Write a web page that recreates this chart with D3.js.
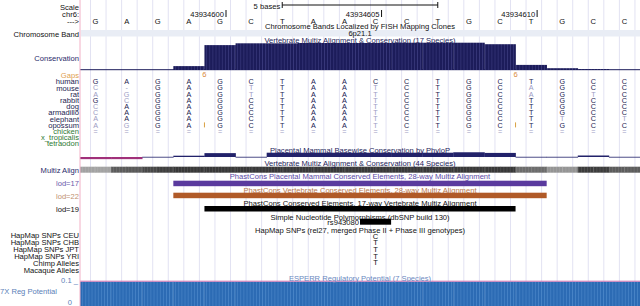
<!DOCTYPE html>
<html>
<head>
<meta charset="utf-8">
<script src="https://cdn.jsdelivr.net/npm/d3@7"></script>
<style>
body { margin: 0; background: #fff; }
svg { display: block; font-family: 'Liberation Sans', Arial, Helvetica, sans-serif; }
</style>
</head>
<body>
<div id="chart"></div>
<script>
//////// data ////////
var bases = ["G","A","G","A","G","C","T","A","A","C","C","T","G","C","T","G","C","C"];
var firstPos = 43934596;
var posLabels = [43934600, 43934605, 43934610];

// 17-way conservation per base (0..1)
var cons17 = [0, 0, 0, 0.13, 0.83, 0.89, 0.89, 0.9, 0.9, 0.9, 0.91, 0.91, 0.91, 0.86, 0.17, 0.06, 0.03, 0];

var species = ["human","mouse","rat","rabbit","dog","armadillo","elephant","opossum","chicken","x_tropicalis","tetraodon"];
var alignRows = [
  "GAGAGCTAACCTGCTGCC",
  "C-GAGTTAATCTGCAGCC",
  "AGGAGTTAATCTGCAGTC",
  "GCGAGCTAATCTGCTGCC",
  "CAGAGCTAATCTGCTGCC",
  "CAGAGCTAATCTGCTGCC",
  "AAGAGCTAATCTGCTTCT",
  "AGGAGCTAATCTGCTGCC",
  "==================",
  "",
  ""
];
var gaps = [{at: 4, n: 6, row: 7}, {at: 14, n: 6, row: 7}];

// phyloP per base
var phyloP = [-0.5, -0.5, 0.05, 0.3, 0.9, 0.05, 1.0, 1.0, 1.0, 1.0, 1.0, 1.0, 1.1, 0.95, 0.05, 0.05, 0.35, 0.05];

// 44-way multiz shading per half base (0..1)
var multiz44 = [0.35, 0.35, 0.7, 0.72, 0.8, 0.85, 0.88, 0.88, 0.88, 0.88, 0.88, 0.88,
                0.88, 0.88, 0.88, 0.88, 0.88, 0.88, 0.88, 0.88, 0.88, 0.88, 0.88, 0.88,
                0.88, 0.88, 0.88, 0.88, 0.62, 0.62, 0.42, 0.42, 0.86, 0.86, 0.7, 0.7];

var lod17 = [3, 15];
var lod22 = [3, 15];
var lod19 = [4, 14];

var snps = [{name: "rs943080", at: 9}];
var hapmapPops = ["HapMap SNPs CEU","HapMap SNPs CHB","HapMap SNPs JPT","HapMap SNPs YRI","Chimp Alleles","Macaque Alleles"];
var hapmapAlleles = ["C","T","T","T","T",""];
var hapmapAt = 9;

var regPotential = [0.1, 0.1, 0.1, 0.1, 0.1, 0.1, 0.1, 0.1, 0.1, 0.1, 0.1, 0.1, 0.1, 0.1, 0.1, 0.1, 0.1, 0.1];

//////// layout ////////
var width = 640, height = 306, left = 80;
var fs = 7.6;
var navy = "#1c1c5a";

var svg = d3.select("#chart").append("svg").attr("width", width).attr("height", height);

var x = d3.scaleLinear().domain([0, bases.length]).range([left, width]);
var bw = x(1) - x(0);

// striped fills: the bar tracks have a fine vertical texture
var defs = svg.append("defs");
function stripePattern(id, base, line) {
  var p = defs.append("pattern").attr("id", id).attr("patternUnits", "userSpaceOnUse")
    .attr("x", left).attr("width", 3.1).attr("height", 10);
  p.append("rect").attr("width", 3.1).attr("height", 10).attr("fill", base);
  p.append("rect").attr("x", 2.4).attr("width", 0.7).attr("height", 10).attr("fill", line);
}
stripePattern("consFill", navy, "#3a3a7c");
stripePattern("regFill", "#2c6bb4", "#4a86c8");

// guidelines
var guides = d3.range(left + 10.5, width, bw / 2);
svg.selectAll(".guide").data(guides).enter().append("line")
  .attr("x1", d => d).attr("x2", d => d)
  .attr("y1", 0).attr("y2", height)
  .attr("stroke", "#e2e2f2").attr("stroke-width", 1);

function label(txt, y, color, anchorX) {
  return svg.append("text").attr("x", anchorX === undefined ? left - 1 : anchorX).attr("y", y + 2.8)
    .attr("text-anchor", "end").attr("font-size", fs).attr("fill", color || "#111").text(txt);
}
function title(txt, y, color) {
  return svg.append("text").attr("x", 360).attr("y", y + 2.8)
    .attr("text-anchor", "middle").attr("font-size", fs).attr("fill", color || "#111").text(txt);
}

//// base position
label("Scale", 6.7, "#111");
label("chr6:", 14, "#111");
label("--->", 20.7, "#111");

// scale bar: 5 bases
var sb0 = x(6.5), sb1 = x(11.5);
svg.append("line").attr("x1", sb0).attr("x2", sb1).attr("y1", 5).attr("y2", 5).attr("stroke", "#111");
svg.selectAll(".sbt").data([sb0, sb1]).enter().append("line")
  .attr("x1", d => d).attr("x2", d => d).attr("y1", 2).attr("y2", 8).attr("stroke", "#111");
svg.append("text").attr("x", sb0 - 2).attr("y", 5.7 + 2.8).attr("text-anchor", "end")
  .attr("font-size", fs).attr("fill", "#111").text("5 bases");

svg.selectAll(".pos").data(posLabels).enter().append("text")
  .attr("x", d => x(d - firstPos + 0.5) + 4).attr("y", 14.5 + 2.8)
  .attr("text-anchor", "end").attr("font-size", fs).attr("fill", "#111")
  .text(d => d);
svg.selectAll(".post").data(posLabels).enter().append("line")
  .attr("x1", d => x(d - firstPos + 0.5) + 6).attr("x2", d => x(d - firstPos + 0.5) + 6)
  .attr("y1", 10).attr("y2", 17).attr("stroke", "#111");

svg.selectAll(".base").data(bases).enter().append("text")
  .attr("x", (d, i) => x(i + 0.5)).attr("y", 21 + 2.8)
  .attr("text-anchor", "middle").attr("font-size", fs).attr("fill", "#111").text(d => d);

//// chromosome band
svg.append("rect").attr("x", left + 1).attr("y", 30).attr("width", width - left).attr("height", 6.5)
  .attr("fill", "#e9edf5");
title("Chromosome Bands Localized by FISH Mapping Clones", 26, "#111");
title("6p21.1", 33, "#111");
label("Chromosome Band", 34, "#111");

//// conservation 17-way
label("Conservation", 57.7, "#2a2a6a");
var yc = d3.scaleLinear().domain([0, 1]).range([70, 40]);
svg.append("line").attr("x1", left).attr("x2", width).attr("y1", 69.7).attr("y2", 69.7)
  .attr("stroke", navy).attr("stroke-width", 1);
svg.selectAll(".cons").data(cons17).enter().append("rect")
  .attr("x", (d, i) => x(i)).attr("width", bw + 0.3)
  .attr("y", d => yc(d)).attr("height", d => 70 - yc(d))
  .attr("fill", "url(#consFill)");
title("Vertebrate Multiz Alignment & Conservation (17 Species)", 40, navy);

label("Gaps", 75.3, "#e0a050");
svg.selectAll(".gapn").data(gaps).enter().append("text")
  .attr("x", d => x(d.at)).attr("y", 74.5 + 2.8).attr("text-anchor", "middle")
  .attr("font-size", fs).attr("fill", "#d98a3a").text(d => d.n);

var rowY = d => 81.5 + 6.2 * d;
svg.selectAll(".sp").data(species).enter().append("text")
  .attr("x", left - 1).attr("y", (d, i) => rowY(i) + 2.8)
  .attr("text-anchor", "end").attr("font-size", fs)
  .attr("fill", (d, i) => i < 8 ? "#1c1c50" : "#2e7a34").text(d => d);

alignRows.forEach(function(row, r) {
  var letters = row.split("").map((c, i) => ({c: c, i: i}));
  svg.selectAll(".al" + r).data(letters).enter().append("text")
    .attr("x", d => x(d.i + 0.5)).attr("y", rowY(r) + 2.6)
    .attr("text-anchor", "middle").attr("font-size", 7.2)
    .attr("fill", d => (r === 0 || d.c === bases[d.i]) ? "#1c1c50" : "#9c9cc4")
    .text(d => d.c);
});
svg.selectAll(".gapbar").data(gaps).enter().append("line")
  .attr("x1", d => x(d.at)).attr("x2", d => x(d.at))
  .attr("y1", d => rowY(d.row) - 2.5).attr("y2", d => rowY(d.row) + 2.5)
  .attr("stroke", "#d9a040").attr("stroke-width", 1);

//// phyloP
var yp = d3.scaleLinear().domain([0, 1]).range([157, 152.7]);
svg.selectAll(".phy").data(phyloP).enter().append("rect")
  .attr("x", (d, i) => x(i)).attr("width", bw + 0.3)
  .attr("y", d => d >= 0 ? yp(d) : 157)
  .attr("height", d => Math.max(0.8, Math.abs(yp(d) - 157)))
  .attr("fill", (d, i) => d >= 0 ? "#22226a" : "#a0307a");
title("Placental Mammal Basewise Conservation by PhyloP", 150, navy);

//// multiz 44
var grey = d3.scaleLinear().domain([0, 1]).range(["#e8e8e8", "#202020"]);
svg.selectAll(".mz").data(multiz44).enter().append("rect")
  .attr("x", (d, i) => x(i / 2)).attr("width", bw / 2 + 0.3)
  .attr("y", 166.7).attr("height", 6)
  .attr("fill", d => grey(d));
svg.selectAll(".mzs").data(d3.range(left + 2, width, 3.1)).enter().append("rect")
  .attr("x", d => d).attr("width", 0.6).attr("y", 166.7).attr("height", 6)
  .attr("fill", "#fff").attr("opacity", 0.16);
title("Vertebrate Multiz Alignment & Conservation (44 Species)", 163.3, navy);
label("Multiz Align", 170, "#2a2a6a");

//// phastCons elements
function element(range, y, color) {
  svg.append("rect").attr("x", x(range[0])).attr("width", x(range[1]) - x(range[0]))
    .attr("y", y).attr("height", 5.5).attr("fill", color);
}
title("PhastCons Placental Mammal Conserved Elements, 28-way Multiz Alignment", 176.5, "#5a48a4");
element(lod17, 180.7, "#5a3a9e");
label("lod=17", 183.3, "#6a5aaa");

title("PhastCons Vertebrate Conserved Elements, 28-way Multiz Alignment", 190, "#b8784e");
element(lod22, 192.7, "#b05a28");
label("lod=22", 196, "#c09070");

title("PhastCons Conserved Elements, 17-way Vertebrate Multiz Alignment", 203.3, "#111");
element(lod19, 206, "#000");
label("lod=19", 209.3, "#111");

//// snps
title("Simple Nucleotide Polymorphisms (dbSNP build 130)", 216.7, "#111");
svg.selectAll(".snp").data(snps).enter().append("rect")
  .attr("x", d => x(d.at)).attr("width", bw).attr("y", 218.7).attr("height", 6).attr("fill", "#000");
svg.selectAll(".snpl").data(snps).enter().append("text")
  .attr("x", d => x(d.at) - 1).attr("y", 221.7 + 2.8).attr("text-anchor", "end")
  .attr("font-size", fs).attr("fill", "#111").text(d => d.name);

//// hapmap
title("HapMap SNPs (rel27, merged Phase II + Phase III genotypes)", 230, "#111");
var hy = d => 235.5 + 6.9 * d;
svg.selectAll(".hm").data(hapmapPops).enter().append("text")
  .attr("x", left - 1).attr("y", (d, i) => hy(i) + 2.8)
  .attr("text-anchor", "end").attr("font-size", fs).attr("fill", "#111").text(d => d);
svg.selectAll(".hma").data(hapmapAlleles).enter().append("text")
  .attr("x", x(hapmapAt + 0.5)).attr("y", (d, i) => 235.7 + 6.7 * i + 2.8)
  .attr("text-anchor", "middle").attr("font-size", fs).attr("fill", "#111").text(d => d);

//// regulatory potential
var yr = d3.scaleLinear().domain([0, 0.1]).range([306, 281.7]).clamp(true);
svg.selectAll(".reg").data(regPotential).enter().append("rect")
  .attr("x", (d, i) => x(i)).attr("width", bw + 0.3)
  .attr("y", d => yr(d)).attr("height", d => 306 - yr(d))
  .attr("fill", "url(#regFill)");
svg.append("line").attr("x1", left).attr("x2", width).attr("y1", 281.2).attr("y2", 281.2)
  .attr("stroke", "#d070b0").attr("stroke-width", 1);
title("ESPERR Regulatory Potential (7 Species)", 278.3, "#6a88c0");
label("7X Reg Potential", 290.7, "#5a80b8", 57);
label("0.1 _", 280, "#5a80b8", 78);
label("0", 302.3, "#5a80b8", 72);

// left border
svg.append("line").attr("x1", left).attr("x2", left).attr("y1", 0).attr("y2", height)
  .attr("stroke", "#f2b0c6").attr("stroke-width", 1);
</script>
</body>
</html>
